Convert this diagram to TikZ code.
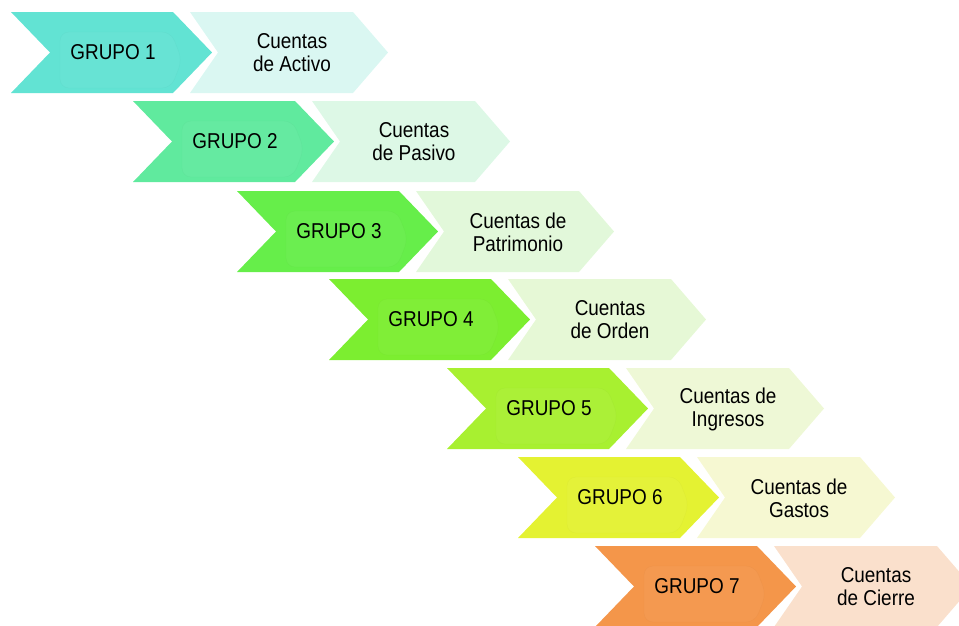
\documentclass[tikz,border=0pt]{standalone}
\usepackage{fontspec}
\setmainfont{Liberation Sans}[FakeStretch=0.88]
\definecolor{d1}{HTML}{62E3D3}\definecolor{l1}{HTML}{DAF7F2}
\definecolor{d2}{HTML}{60EA9E}\definecolor{l2}{HTML}{DDF8E6}
\definecolor{d3}{HTML}{66EE4A}\definecolor{l3}{HTML}{E2F8DA}
\definecolor{d4}{HTML}{7CEE30}\definecolor{l4}{HTML}{E6F8D6}
\definecolor{d5}{HTML}{A8F030}\definecolor{l5}{HTML}{EEF8D6}
\definecolor{d6}{HTML}{E4F232}\definecolor{l6}{HTML}{F6F8D2}
\definecolor{d7}{HTML}{F4964A}\definecolor{l7}{HTML}{FAE0CC}
\tikzset{
  lbl/.style={font=\fontsize{21.5}{23}\selectfont, text=black, align=center, inner sep=0pt},
}
\begin{document}
\begin{tikzpicture}[x=1pt,y=-1pt]
\useasboundingbox (0,0) rectangle (959,625);
\foreach \L/\T/\dc/\lc/\n/\txt in {
  11/12/d1/l1/1/{Cuentas\\de Activo},
  133/101/d2/l2/2/{Cuentas\\de Pasivo},
  237/191/d3/l3/3/{Cuentas de\\Patrimonio},
  329/279/d4/l4/4/{Cuentas\\de Orden},
  447/368/d5/l5/5/{Cuentas de\\Ingresos},
  518/457/d6/l6/6/{Cuentas de\\Gastos},
  595/546/d7/l7/7/{Cuentas\\de Cierre}}{
  % light chevron
  \fill[\lc] (\L+179,\T) -- (\L+342,\T) -- (\L+377,\T+40.5) -- (\L+342,\T+81)
     -- (\L+179,\T+81) -- (\L+207,\T+40.5) -- cycle;
  % dark chevron
  \fill[\dc] (\L,\T) -- (\L+162,\T) -- (\L+201,\T+40.5) -- (\L+162,\T+81)
     -- (\L,\T+81) -- (\L+39,\T+40.5) -- cycle;
  % glossy inner shape
  \draw[\dc!80!black, draw opacity=0.12, fill=white, fill opacity=0.035, rounded corners=9]
     (\L+49,\T+20) -- (\L+160,\T+20) -- (\L+171,\T+48) -- (\L+160,\T+76) -- (\L+49,\T+76) -- cycle;
  \node[lbl] (g\n) at (\L+102,\T+40.5) {GRUPO \n};
  \node[lbl] (c\n) at (\L+281,\T+41) {\txt};
}
\end{tikzpicture}
\end{document}
